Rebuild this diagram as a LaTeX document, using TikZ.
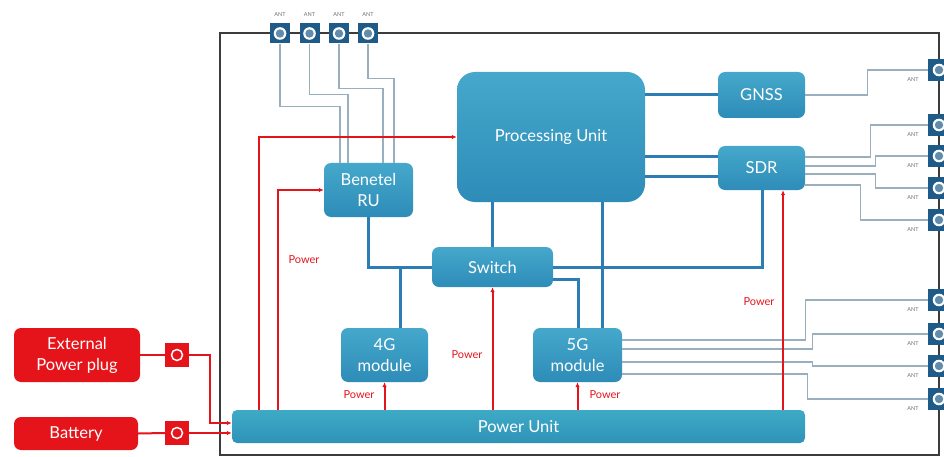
\documentclass[tikz,border=0pt]{standalone}
\usepackage{fontspec}
\setmainfont{Lato}
\usetikzlibrary{arrows.meta}
\definecolor{boxA}{HTML}{45A8CB}
\definecolor{boxB}{HTML}{2E8CB8}
\definecolor{pwrA}{HTML}{3EAAC6}
\definecolor{pwrB}{HTML}{2F93B8}
\definecolor{bline}{HTML}{2D7DB5}
\definecolor{tline}{HTML}{9AAFBD}
\definecolor{pred}{HTML}{E5141B}
\definecolor{conn}{HTML}{1E5B88}
\definecolor{frm}{HTML}{3C3C3C}
\begin{document}
\begin{tikzpicture}[x=1pt,y=-1pt,
 box/.style={rectangle, rounded corners=7pt, top color=boxA, bottom color=boxB, draw=none, text=white, font=\fontsize{16.5}{21}\selectfont, align=center, inner sep=0pt},
 rbox/.style={rectangle, rounded corners=7pt, fill=pred, text=white, font=\fontsize{16.5}{21}\selectfont, align=center, inner sep=0pt},
 antc/.style={rectangle, minimum size=20pt, inner sep=0pt, fill=conn, path picture={\fill[white] (path picture bounding box.center) circle (6.3pt); \fill[conn!70!white] (path picture bounding box.center) circle (4.2pt);}},
 rconn/.style={rectangle, minimum size=24pt, inner sep=0pt, fill=pred, path picture={\draw[white, line width=1.5pt] (path picture bounding box.center) circle (5.5pt);}},
 antl/.style={font=\fontsize{5.5}{6}\selectfont, text=black!55, inner sep=0pt},
 plab/.style={font=\fontsize{11}{12}\selectfont, text=pred, inner sep=0pt},
 bl/.style={draw=bline, line width=3pt},
 tl/.style={draw=tline, line width=1.1pt},
 rl/.style={draw=pred, line width=2pt, -{Latex[length=5pt,width=4.5pt]}},
 rl0/.style={draw=pred, line width=2pt}
]
\useasboundingbox (0,0) rectangle (944,457);
\draw[frm, line width=2.5pt] (220,33) rectangle (939,455);

% boxes
\node[box, minimum width=89pt, minimum height=54pt] (ru) at (368.5,190) {Benetel\\RU};
\node[box, rounded corners=18pt, minimum width=188pt, minimum height=130pt] (pu) at (551,137) {Processing Unit};
\node[box, minimum width=87pt, minimum height=46pt] (gnss) at (761.5,95) {GNSS};
\node[box, minimum width=87pt, minimum height=44pt] (sdr) at (761.5,168) {SDR};
\node[box, minimum width=121pt, minimum height=40pt] (sw) at (492.5,267) {Switch};
\node[box, minimum width=87pt, minimum height=54pt] (g4) at (384.5,355) {4G\\module};
\node[box, minimum width=89pt, minimum height=54pt] (g5) at (577.5,355) {5G\\module};
\node[box, top color=pwrA, bottom color=pwrB, rounded corners=5pt, minimum width=573pt, minimum height=33pt] (pwr) at (518.5,426.5) {Power Unit};
\node[rbox, minimum width=126pt, minimum height=54pt] (ext) at (77,355) {External\\Power plug};
\node[rbox, minimum width=124pt, minimum height=33pt] (bat) at (76,433.5) {Battery};
\node[rconn] (c1) at (177,355) {};
\node[rconn] (c2) at (177,433) {};

% top antenna connectors
\node[antc] (a1) at (280,33.5) {};
\node[antc] (a2) at (309.5,33.5) {};
\node[antc] (a3) at (339,33.5) {};
\node[antc] (a4) at (368,33.5) {};
\node[antl] (la1) at (280,15) {ANT};
\node[antl] (la2) at (309.5,15) {ANT};
\node[antl] (la3) at (339,15) {ANT};
\node[antl] (la4) at (368,15) {ANT};

% right antenna connectors
\foreach \n/\y in {r1/70,r2/125,r3/156,r4/188,r5/220,r6/300,r7/334,r8/366,r9/399}{
  \node[antc, minimum size=22pt] (\n) at (939,\y) {};
  \node[antl] (l\n) at (913,\y+10) {ANT};
}

% antenna lines (top)
\coordinate (ru1) at ([xshift=-28.5pt]ru.north);
\coordinate (ru2) at ([xshift=-20.5pt]ru.north);
\coordinate (ru3) at ([xshift=14.5pt]ru.north);
\coordinate (ru4) at ([xshift=25.5pt]ru.north);
\draw[tl] (a1.south) -- ++(0,62.5) -| (ru1);
\draw[tl] (a2.south) -- ++(0,50.5) -| (ru2);
\draw[tl] (a3.south) -- ++(0,44.5) -| (ru3);
\draw[tl] (a4.south) -- ++(0,34.5) -| (ru4);

% antenna lines (right)
\draw[tl] (gnss.east) -- ++(62,0) |- (r1.west);
\draw[tl] ([yshift=11pt]sdr.east) -- ++(65,0) |- (r2.west);
\draw[tl] ([yshift=2pt]sdr.east) -- ++(70,0) |- (r3.west);
\draw[tl] ([yshift=-6pt]sdr.east) -- ++(70,0) |- (r4.west);
\draw[tl] ([yshift=-17pt]sdr.east) -- ++(55,0) |- (r5.west);
\draw[tl] ([yshift=15pt]g5.east) -- ++(183,0) |- (r6.west);
\draw[tl] ([yshift=6pt]g5.east) -- ++(190,0) |- (r7.west);
\draw[tl] ([yshift=-7pt]g5.east) -- ++(190,0) |- (r8.west);
\draw[tl] ([yshift=-19pt]g5.east) -- ++(185,0) |- (r9.west);

% data lines
\coordinate (s1) at ([yshift=11pt]sdr.west);
\coordinate (s2) at ([yshift=-9pt]sdr.west);
\draw[bl] (pu.east |- gnss.west) -- (gnss.west);
\draw[bl] (s1 -| pu.east) -- (s1);
\draw[bl] (s2 -| pu.east) -- (s2);
\draw[bl] (sw.north |- pu.south) -- (sw.north);
\coordinate (p5) at ([xshift=24.5pt]g5.north);
\draw[bl] (p5 |- pu.south) -- (p5);
\draw[bl] ([yshift=-12pt]sw.east) -| ([xshift=0.5pt]g5.north);
\draw[bl] (sw.east) -| ([xshift=0.5pt]sdr.south);
\draw[bl] (ru.south) |- (sw.west);
\coordinate (p4) at ([xshift=15.5pt]g4.north);
\draw[bl] (p4 |- sw.west) -- (p4);

% power lines
\draw[rl] ([xshift=-259.5pt]pwr.north) |- (pu.west);
\draw[rl] ([xshift=-240.5pt]pwr.north) |- (ru.west);
\draw[rl] (g4.south |- pwr.north) -- (g4.south);
\draw[rl] (sw.south |- pwr.north) -- (sw.south);
\draw[rl] (g5.south |- pwr.north) -- (g5.south);
\coordinate (sp) at ([xshift=21.5pt]sdr.south);
\draw[rl] (sp |- pwr.north) -- (sp);
\draw[rl0] (ext.east) -- (c1.west);
\draw[rl0] (bat.east) -- (c2.west);
\draw[rl] (c1.east) -- ++(21,0) |- ([yshift=3.5pt]pwr.west);
\draw[rl] (c2.east) -- ([yshift=-6.5pt]pwr.west);

% power labels
\node[plab] (pl1) at (304,260) {Power};
\node[plab] (pl2) at (359,395) {Power};
\node[plab] (pl3) at (467,355) {Power};
\node[plab] (pl4) at (605,395) {Power};
\node[plab] (pl5) at (759,302) {Power};
\end{tikzpicture}
\end{document}
